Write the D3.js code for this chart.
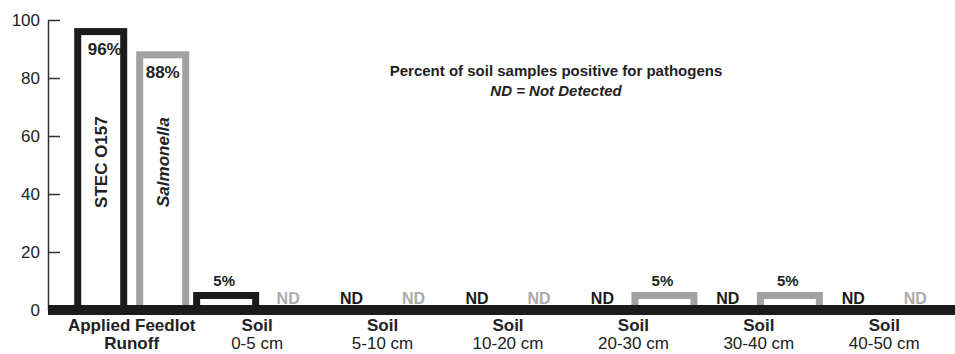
<!DOCTYPE html>
<html>
<head>
<meta charset="utf-8">
<script src="https://cdn.jsdelivr.net/npm/d3@7"></script>
<style>
	body { margin: 0; background: #fff; }
	svg text { font-family: "Liberation Sans", Arial, sans-serif; fill: #222; }
</style>
</head>
<body>
<svg id="chart" width="955" height="354"></svg>
<script>
// categories (two-line labels)
var groups = ["runoff", "s0-5", "s5-10", "s10-20", "s20-30", "s30-40", "s40-50"]
var groupLine1 = ["Applied Feedlot", "Soil", "Soil", "Soil", "Soil", "Soil", "Soil"]
var groupLine2 = ["Runoff", "0-5 cm", "5-10 cm", "10-20 cm", "20-30 cm", "30-40 cm", "40-50 cm"]
var series = ["STEC O157", "Salmonella"]
// percent positive, null = not detected
var stecValues = [96, 5, null, null, null, null, null]
var salmValues = [88, null, null, null, 5, 5, null]
var yTicks = [0, 20, 40, 60, 80, 100]

var colors = { "STEC O157": "#1b1b1b", "Salmonella": "#a2a2a2" }
var ndColors = { "STEC O157": "#1b1b1b", "Salmonella": "#ababab" }

var svg = d3.select("#chart")
var sw = 7

var y = d3.scaleLinear().domain([0, 100]).range([310, 20])
var x = d3.scaleBand().domain(groups).range([69, 947]).padding(0)
var sub = d3.scaleBand().domain(series)
	.range([x.bandwidth() / 2 - 62, x.bandwidth() / 2 + 62]).padding(0)

// flatten into bar records
var bars = []
groups.forEach(function(g, i) {
	bars.push({ group: g, i: i, s: series[0], v: stecValues[i] })
	bars.push({ group: g, i: i, s: series[1], v: salmValues[i] })
})

var cx = function(d) { return x(d.group) + sub(d.s) + sub.bandwidth() / 2 }
var barW = function(d) { return d.i == 0 ? 46 : 59 }

// y axis: ticks point inward, labels outside
var yAxis = d3.axisLeft(y).tickValues(yTicks).tickSizeInner(-12).tickSizeOuter(0).tickPadding(8)
var ax = svg.append("g").attr("transform", "translate(48,0)").call(yAxis)
ax.select(".domain").attr("stroke", "#333").attr("stroke-width", 1.5)
ax.selectAll(".tick line").attr("stroke", "#333").attr("stroke-width", 1.5)
ax.selectAll(".tick text")
	.style("font-family", '"Liberation Sans", Arial, sans-serif')
	.style("font-size", "17px").attr("fill", "#333")

// bars (outlined)
var shown = bars.filter(function(d) { return d.v != null })
svg.selectAll(".bar").data(shown).enter().append("rect")
	.classed("bar", true)
	.attr("x", function(d) { return cx(d) - barW(d) / 2 })
	.attr("y", function(d) { return y(d.v) })
	.attr("width", barW)
	.attr("height", function(d) { return y(0) - y(d.v) })
	.attr("fill", "#fff")
	.attr("stroke", function(d) { return colors[d.s] })
	.attr("stroke-width", sw)

// baseline
svg.append("line")
	.attr("x1", 48).attr("x2", 955)
	.attr("y1", y(0)).attr("y2", y(0))
	.attr("stroke", "#1b1b1b").attr("stroke-width", 10)

// percent labels: inside for tall bars, above for short ones
svg.selectAll(".pct").data(shown).enter().append("text")
	.classed("pct", true)
	.attr("x", function(d) { return d.v > 50 ? cx(d) + (d.s == series[0] ? 4 : 0) : cx(d) - 2 })
	.attr("y", function(d) { return d.v > 50 ? y(d.v) + 23 : y(d.v) - 10 })
	.attr("text-anchor", "middle")
	.style("font-weight", "bold")
	.style("font-size", function(d) { return d.v > 50 ? "17px" : "15px" })
	.text(function(d) { return d.v + "%" })

// ND labels
svg.selectAll(".nd").data(bars.filter(function(d) { return d.v == null })).enter().append("text")
	.classed("nd", true)
	.attr("x", cx)
	.attr("y", y(0) - 6)
	.attr("text-anchor", "middle")
	.style("font-weight", "bold")
	.style("font-size", "16px")
	.style("fill", function(d) { return ndColors[d.s] })
	.text("ND")

// series names written inside the runoff bars
svg.selectAll(".sname").data(bars.filter(function(d) { return d.i == 0 })).enter().append("text")
	.classed("sname", true)
	.attr("transform", function(d) { return "translate(" + (cx(d) + 6) + "," + y(51) + ") rotate(-90)" })
	.attr("text-anchor", "middle")
	.style("font-weight", "bold")
	.style("font-style", function(d) { return d.s == "Salmonella" ? "italic" : "normal" })
	.style("font-size", "17px")
	.text(function(d) { return d.s })

// category labels
var cat = svg.selectAll(".cat").data(groups).enter().append("g").classed("cat", true)
cat.append("text")
	.attr("x", function(g) { return x(g) + x.bandwidth() / 2 })
	.attr("y", 331)
	.attr("text-anchor", "middle")
	.style("font-weight", "bold").style("font-size", "17px")
	.text(function(g, i) { return groupLine1[i] })
cat.append("text")
	.attr("x", function(g) { return x(g) + x.bandwidth() / 2 })
	.attr("y", 349)
	.attr("text-anchor", "middle")
	.style("font-weight", function(g, i) { return i == 0 ? "bold" : "normal" })
	.style("font-size", "17px")
	.text(function(g, i) { return groupLine2[i] })

// title
svg.append("text").attr("x", 556).attr("y", 76).attr("text-anchor", "middle")
	.style("font-weight", "bold").style("font-size", "15px")
	.text("Percent of soil samples positive for pathogens")
svg.append("text").attr("x", 556).attr("y", 96).attr("text-anchor", "middle")
	.style("font-weight", "bold").style("font-style", "italic").style("font-size", "15px")
	.text("ND = Not Detected")
</script>
</body>
</html>
